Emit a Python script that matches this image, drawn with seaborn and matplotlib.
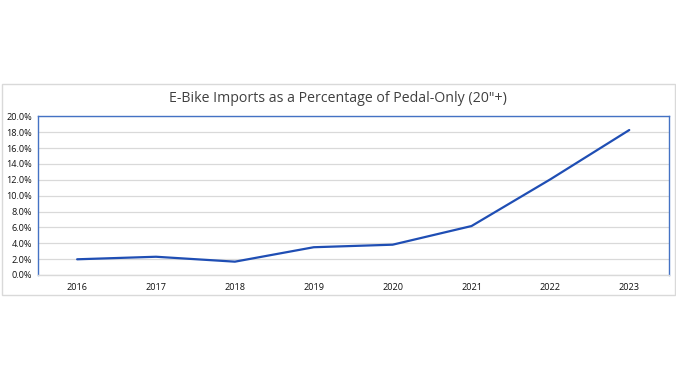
import matplotlib
matplotlib.use("Agg")
import matplotlib.pyplot as plt
import matplotlib.patches as mpatches
from matplotlib.ticker import FuncFormatter
import seaborn as sns
import pandas as pd

# donnees
annees = ["2016", "2017", "2018", "2019", "2020", "2021", "2022", "2023"]
pourcentages = [1.98, 2.3, 1.68, 3.5, 3.82, 6.17, 12.06, 18.27]

titre = 'E-Bike Imports as a Percentage of Pedal-Only (20"+)'

df = pd.DataFrame({"annee": annees, "pct": pourcentages})

sns.set_style("white")
plt.rcParams["font.family"] = ["Open Sans", "DejaVu Sans"]

fig = plt.figure(figsize=(6.76, 3.8), dpi=100)
ax = fig.add_axes([37.7 / 676, 105 / 380, 631 / 676, 158.7 / 380])

# cadre exterieur gris clair
cadre = mpatches.Rectangle((1.5 / 676, 85.5 / 380), 673 / 676, 210 / 380,
                           transform=fig.transFigure, fill=False,
                           edgecolor="#d9d9d9", linewidth=1, zorder=0)
fig.patches.append(cadre)

sns.lineplot(data=df, x="annee", y="pct", ax=ax, color="#1f4eb4",
             linewidth=1.6, sort=False)

ax.set_xlim(-0.5, 7.5)
ax.set_ylim(0, 20)
ax.set_yticks(range(0, 21, 2))
ax.yaxis.set_major_formatter(FuncFormatter(lambda v, p: f"{v:.1f}%"))
ax.grid(axis="y", color="#d9d9d9", linewidth=0.9)
ax.set_axisbelow(True)
ax.set_xlabel("")
ax.set_ylabel("")
ax.tick_params(axis="both", length=0, labelsize=6.6, colors="#111111")
ax.tick_params(axis="x", pad=6)
ax.tick_params(axis="y", pad=4)

for cote in ["left", "top", "right"]:
    ax.spines[cote].set_color("#4472c4")
    ax.spines[cote].set_linewidth(1)
ax.spines["bottom"].set_color("#d9d9d9")
ax.spines["bottom"].set_linewidth(1)

fig.text(0.5, (380 - 98) / 380, titre, ha="center", va="center",
         fontsize=10.2, color="#404040")

fig.savefig("out.png", dpi=100)
